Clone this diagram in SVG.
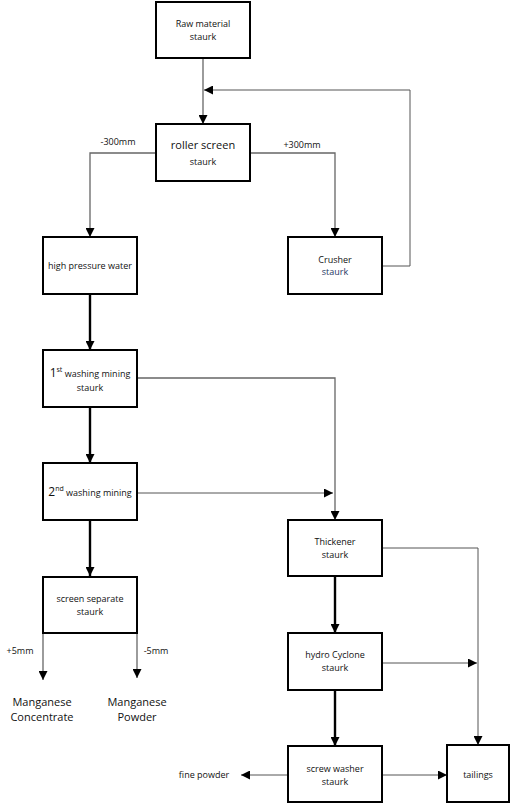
<svg xmlns="http://www.w3.org/2000/svg" width="511" height="805" viewBox="0 0 511 805">
<defs>
<marker id="ah" viewBox="0 0 10 10" refX="10" refY="5" markerWidth="9" markerHeight="9" markerUnits="userSpaceOnUse" orient="auto">
<path d="M0,0 L10,5 L0,10 z" fill="#000"/>
</marker>
</defs>
<style>
.box{fill:#fff;stroke:#000;stroke-width:2}
.t{font-family:"Open Sans","Noto Sans",sans-serif;font-size:9px;fill:#111;text-anchor:middle}
.tl{font-family:"Open Sans","Noto Sans",sans-serif;font-size:11px;fill:#111;text-anchor:middle}
.thin{fill:none;stroke:#666;stroke-width:1.3}
.thin2{fill:none;stroke:#555;stroke-width:1}
.thick{fill:none;stroke:#000;stroke-width:2.4}
</style>
<rect width="511" height="805" fill="#fff"/>
<g id="connectors">
<path class="thin" d="M203,58 V124" marker-end="url(#ah)"/>
<path class="thin2" d="M382,266 H410 V90 H204" marker-end="url(#ah)"/>
<path class="thin" d="M156,153 H90 V237" marker-end="url(#ah)"/>
<path class="thin" d="M250,153 H335 V237" marker-end="url(#ah)"/>
<path class="thick" d="M90,294 V350" marker-end="url(#ah)"/>
<path class="thin" d="M137,378 H335 V520" stroke="#888" marker-end="url(#ah)"/>
<path class="thick" d="M90,407 V463" marker-end="url(#ah)"/>
<path class="thin2" d="M137,493 H333" marker-end="url(#ah)"/>
<path class="thick" d="M90,520 V576" marker-end="url(#ah)"/>
<path class="thin" d="M43,633 V680" stroke="#444" marker-end="url(#ah)"/>
<path class="thin" d="M137,633 V678" stroke="#444" marker-end="url(#ah)"/>
<path class="thin2" d="M382,548 H478 V745" marker-end="url(#ah)"/>
<path class="thick" d="M335,576 V633" marker-end="url(#ah)"/>
<path class="thin2" d="M382,663 H477" marker-end="url(#ah)"/>
<path class="thick" d="M335,690 V746" marker-end="url(#ah)"/>
<path class="thin2" d="M288,775 H241" marker-end="url(#ah)"/>
<path class="thin2" d="M382,775 H447" marker-end="url(#ah)"/>
</g>
<g id="labels">
<text class="t" x="118" y="145">-300mm</text>
<text class="t" x="302" y="148">+300mm</text>
<text class="t" x="20" y="654">+5mm</text>
<text class="t" x="156" y="654">-5mm</text>
<text class="tl" x="42" y="706">Manganese</text>
<text class="tl" x="42" y="721">Concentrate</text>
<text class="tl" x="137" y="706">Manganese</text>
<text class="tl" x="137" y="721">Powder</text>
<text class="t" x="204" y="778">fine powder</text>
</g>
<g id="raw"><rect class="box" x="156" y="2" width="94" height="56"/><text class="t" x="203" y="27">Raw material</text><text class="t" x="203" y="40">staurk</text></g>
<g id="roller"><rect class="box" x="156" y="124" width="94" height="57"/><text class="tl" x="203" y="149">roller screen</text><text class="t" x="203" y="165">staurk</text></g>
<g id="hpw"><rect class="box" x="43" y="237" width="94" height="57"/><text class="t" x="90" y="269">high pressure water</text></g>
<g id="crusher"><rect class="box" x="288" y="237" width="94" height="57"/><text class="t" x="335" y="263">Crusher</text><text class="t" x="335" y="275" style="fill:#1f3864">staurk</text></g>
<g id="wash1"><rect class="box" x="43" y="350" width="94" height="57"/><text class="t" x="90" y="377"><tspan font-size="12">1</tspan><tspan font-size="7" dy="-5">st</tspan><tspan dy="5"> washing mining</tspan></text><text class="t" x="90" y="391">staurk</text></g>
<g id="wash2"><rect class="box" x="43" y="463" width="94" height="57"/><text class="t" x="90" y="496"><tspan font-size="12">2</tspan><tspan font-size="7" dy="-5">nd</tspan><tspan dy="5"> washing mining</tspan></text></g>
<g id="screen"><rect class="box" x="43" y="577" width="94" height="56"/><text class="t" x="90" y="602">screen separate</text><text class="t" x="90" y="615">staurk</text></g>
<g id="thickener"><rect class="box" x="288" y="520" width="94" height="56"/><text class="t" x="335" y="545">Thickener</text><text class="t" x="335" y="558">staurk</text></g>
<g id="hydro"><rect class="box" x="288" y="633" width="94" height="57"/><text class="t" x="335" y="658">hydro Cyclone</text><text class="t" x="335" y="671">staurk</text></g>
<g id="screw"><rect class="box" x="288" y="746" width="94" height="56"/><text class="t" x="335" y="772">screw washer</text><text class="t" x="335" y="785">staurk</text></g>
<g id="tailings"><rect class="box" x="447" y="745" width="62" height="57"/><text class="t" x="478" y="778">tailings</text></g>
</svg>
